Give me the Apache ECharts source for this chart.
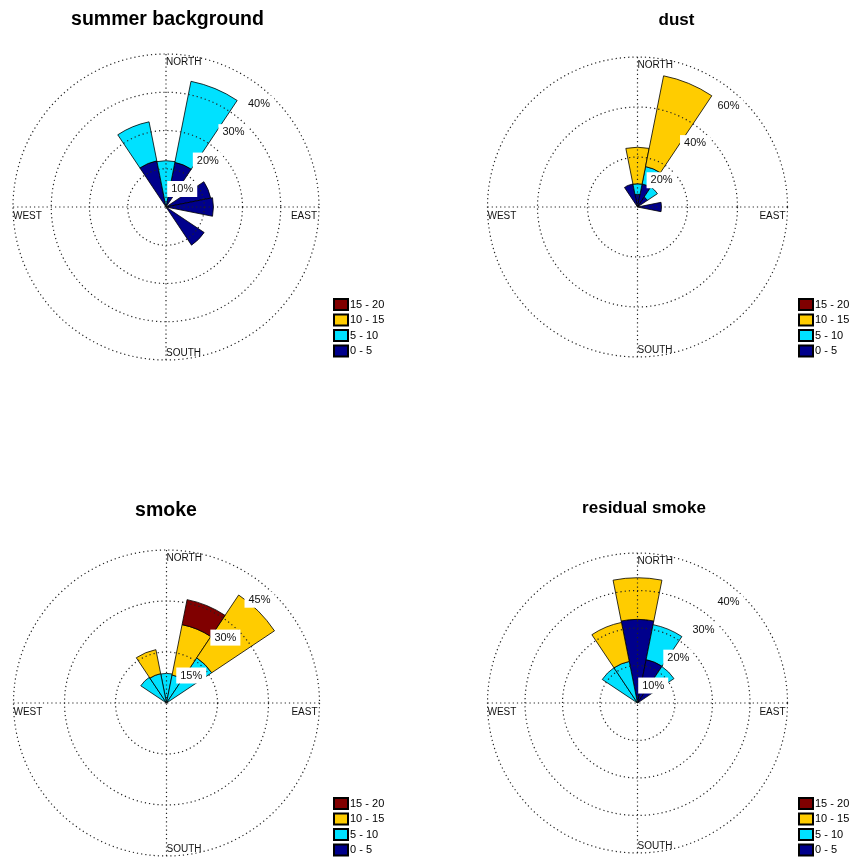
<!DOCTYPE html>
<html><head><meta charset="utf-8">
<script src="https://cdn.jsdelivr.net/npm/echarts@6/dist/echarts.min.js"></script>
<style>html,body{margin:0;padding:0;background:#fff}#c{width:853px;height:857px}</style>
</head><body><div id="c"></div>
<script>
// ---------- data ----------
const directions = ['N','NNE','NE','ENE','E','ESE','SE','SSE','S','SSW','SW','WSW','W','WNW','NW','NNW'];
const speedBins = ['0 - 5','5 - 10','10 - 15','15 - 20'];
const legendOrder = ['15 - 20','10 - 15','5 - 10','0 - 5'];
const compassLabels = ['NORTH','EAST','SOUTH','WEST'];
const panelTitles = ['summer background','dust','smoke','residual smoke'];

const ringTicksSummer = [10,20,30,40];
const ringTicksDust = [20,40,60];
const ringTicksSmoke = [15,30,45];
const ringTicksResidual = [10,20,30,40];

// frequency (%) per direction N..NNW, one array per speed bin
const summer_0_5   = [0, 11.9, 0, 11.9, 12.4, 0, 12.0, 0, 0, 0, 0, 0, 0, 0, 0, 12.3];
const summer_5_10  = [12.1, 21.6, 0, 0, 0, 0, 0, 0, 0, 0, 0, 0, 0, 0, 0, 10.4];
const summer_10_15 = [0, 0, 0, 0, 0, 0, 0, 0, 0, 0, 0, 0, 0, 0, 0, 0];
const summer_15_20 = [0, 0, 0, 0, 0, 0, 0, 0, 0, 0, 0, 0, 0, 0, 0, 0];

const dust_0_5   = [5.1, 9.4, 4.8, 0, 9.6, 0, 0, 0, 0, 0, 0, 0, 0, 0, 0, 9.4];
const dust_5_10  = [4.2, 7.1, 4.8, 0, 0, 0, 0, 0, 0, 0, 0, 0, 0, 0, 0, 0];
const dust_10_15 = [14.6, 37.0, 0, 0, 0, 0, 0, 0, 0, 0, 0, 0, 0, 0, 0, 0];
const dust_15_20 = [0, 0, 0, 0, 0, 0, 0, 0, 0, 0, 0, 0, 0, 0, 0, 0];

const smoke_0_5   = [0, 0, 0, 0, 0, 0, 0, 0, 0, 0, 0, 0, 0, 0, 0, 0];
const smoke_5_10  = [8.7, 8.4, 16.0, 0, 0, 0, 0, 0, 0, 0, 0, 0, 0, 0, 9.1, 8.8];
const smoke_10_15 = [0, 15.1, 22.2, 0, 0, 0, 0, 0, 0, 0, 0, 0, 0, 0, 0, 7.2];
const smoke_15_20 = [0, 7.5, 0, 0, 0, 0, 0, 0, 0, 0, 0, 0, 0, 0, 0, 0];

const residual_0_5   = [22.3, 11.8, 4.5, 0, 0, 0, 0, 0, 0, 0, 0, 0, 0, 0, 0, 0];
const residual_5_10  = [0, 9.5, 7.2, 0, 0, 0, 0, 0, 0, 0, 0, 0, 0, 0, 11.3, 11.3];
const residual_10_15 = [11.1, 0, 0, 0, 0, 0, 0, 0, 0, 0, 0, 0, 0, 0, 0, 10.6];
const residual_15_20 = [0, 0, 0, 0, 0, 0, 0, 0, 0, 0, 0, 0, 0, 0, 0, 0];

// ---------- styling / layout ----------
const binColors = ['#00008c', '#00e1ff', '#ffcc00', '#800000'];
const FONT = 'Liberation Sans, Arial, Helvetica, sans-serif';
const panels = [
  {title: panelTitles[0], ticks: ringTicksSummer, bins: [summer_0_5, summer_5_10, summer_10_15, summer_15_20],
   cx: 166, cy: 207, r: 153, tx: 167.5, ty: 10, tf: 19.5, lx: 333, ly: 298},
  {title: panelTitles[1], ticks: ringTicksDust, bins: [dust_0_5, dust_5_10, dust_10_15, dust_15_20],
   cx: 637.5, cy: 207, r: 150, tx: 676.5, ty: 12, tf: 17, lx: 798, ly: 298},
  {title: panelTitles[2], ticks: ringTicksSmoke, bins: [smoke_0_5, smoke_5_10, smoke_10_15, smoke_15_20],
   cx: 166.5, cy: 703, r: 153, tx: 166, ty: 501, tf: 19.5, lx: 333, ly: 797},
  {title: panelTitles[3], ticks: ringTicksResidual, bins: [residual_0_5, residual_5_10, residual_10_15, residual_15_20],
   cx: 637.5, cy: 703, r: 150, tx: 644, ty: 500, tf: 17, lx: 798, ly: 797}
];

const dotted = {color: '#222', width: 1.2, type: [1.2, 3]};
const option = {
  backgroundColor: '#fff',
  animation: false,
  title: [], legend: [], polar: [], angleAxis: [], radiusAxis: [], series: []
};

const labelAngle = 42, labelInset = 14;
const rad = labelAngle * Math.PI / 180;
const labelOffset = [-labelInset * Math.sin(rad), labelInset * Math.cos(rad)];

panels.forEach((p, i) => {
  const gridIdx = i * 2, barIdx = i * 2 + 1;
  const maxV = p.ticks[p.ticks.length - 1];
  const step = p.ticks[0];
  option.title.push({text: p.title, left: p.tx, top: p.ty, textAlign: 'center', padding: 0,
    textStyle: {fontSize: p.tf, fontWeight: 'bold', color: '#000', fontFamily: FONT}});
  option.legend.push({orient: 'vertical', left: p.lx, top: p.ly, padding: 0, height: 90,
    itemWidth: 14, itemHeight: 11, itemGap: 2.5, icon: 'rect', selectedMode: false,
    data: legendOrder,
    textStyle: {fontSize: 11, lineHeight: 11, color: '#000', fontFamily: FONT, padding: [0, 0, 0, -3]}});
  option.polar.push({center: [p.cx, p.cy], radius: p.r});
  option.polar.push({center: [p.cx, p.cy], radius: p.r});
  option.angleAxis.push({polarIndex: gridIdx, type: 'value', min: 0, max: 360, interval: 90,
    startAngle: 90, clockwise: true, z: 3,
    axisLine: {show: false}, axisTick: {show: false}, axisLabel: {show: false},
    splitLine: {show: true, lineStyle: dotted}});
  option.angleAxis.push({polarIndex: barIdx, type: 'category', data: directions,
    startAngle: 90 + 180 / directions.length, clockwise: true, boundaryGap: true,
    axisLine: {show: false}, axisTick: {show: false}, axisLabel: {show: false}, splitLine: {show: false}});
  option.radiusAxis.push({polarIndex: gridIdx, type: 'value', min: 0, max: maxV, interval: step, z: 3,
    axisLine: {show: false}, axisTick: {show: false}, axisLabel: {show: false},
    splitLine: {show: true, lineStyle: dotted}});
  option.radiusAxis.push({polarIndex: barIdx, type: 'value', min: 0, max: maxV,
    axisLine: {show: false}, axisTick: {show: false}, axisLabel: {show: false}, splitLine: {show: false}});

  p.bins.forEach((arr, b) => {
    option.series.push({
      type: 'bar', name: speedBins[b], coordinateSystem: 'polar', polarIndex: barIdx,
      stack: 'rose' + i, barCategoryGap: '0%', silent: true,
      data: arr.map(v => (v === 0 ? null : v)),
      itemStyle: {color: binColors[b], borderColor: '#000', borderWidth: 0.8}
    });
  });

  // ring percentage labels
  option.series.push({
    type: 'scatter', coordinateSystem: 'polar', polarIndex: gridIdx, z: 6, silent: true,
    symbolSize: 0.01, itemStyle: {color: '#fff', opacity: 1},
    data: p.ticks.map(v => [v, labelAngle]),
    label: {show: true, position: 'inside', offset: labelOffset, formatter: q => q.value[0] + '%',
      backgroundColor: '#ffffff', opacity: 1, padding: [3, 4, 2, 4], fontSize: 11, color: '#111', fontFamily: FONT}
  });
  // compass labels
  option.series.push({
    type: 'scatter', coordinateSystem: 'polar', polarIndex: gridIdx, z: 6, silent: true,
    symbolSize: 0.01, itemStyle: {color: '#fff', opacity: 1},
    label: {show: true, position: 'inside', formatter: q => q.name,
      fontSize: 10, color: '#111', fontFamily: FONT, verticalAlign: 'middle'},
    data: [
      {name: compassLabels[0], value: [maxV, 0], label: {align: 'left', offset: [0, 8]}},
      {name: compassLabels[1], value: [maxV, 90], label: {align: 'right', offset: [-2, 9]}},
      {name: compassLabels[2], value: [maxV, 180], label: {align: 'left', offset: [0, -7]}},
      {name: compassLabels[3], value: [maxV, 270], label: {align: 'left', offset: [0, 9]}}
    ]
  });
});

const chart = echarts.init(document.getElementById('c'), null, {renderer: 'canvas'});
chart.setOption(option);
</script></body></html>
